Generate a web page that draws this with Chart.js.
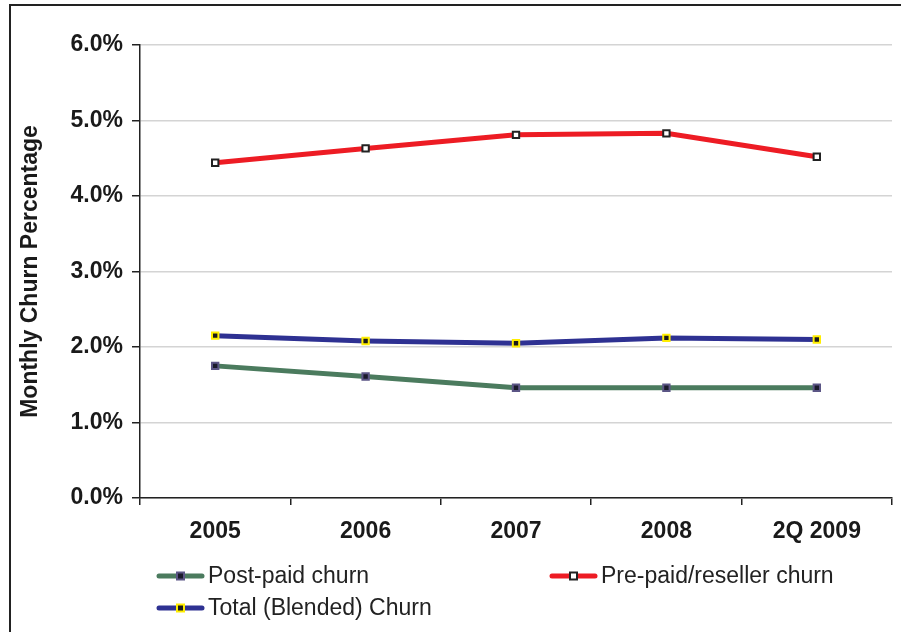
<!DOCTYPE html>
<html>
<head>
<meta charset="utf-8">
<script src="https://cdn.jsdelivr.net/npm/chart.js@4.4.0/dist/chart.umd.min.js"></script>
<style>
    body { margin: 0; background: #fff; overflow: hidden; }
    #wrap { position: relative; width: 901px; height: 632px; }
    #frame { position: absolute; left: 9px; top: 4px; width: 1000px; height: 1000px;
             border-left: 2px solid #222; border-top: 2px solid #222; }
    canvas { position: absolute; left: 0; top: 0; }
</style>
</head>
<body>
<div id="wrap">
    <div id="frame"></div>
    <canvas id="grafico" width="901" height="632"></canvas>
</div>
<script>
const anos = ['2005', '2006', '2007', '2008', '2Q 2009'];
const posPago = [1.75, 1.61, 1.46, 1.46, 1.46];
const prePago = [4.44, 4.63, 4.81, 4.83, 4.52];
const totalBlended = [2.15, 2.08, 2.05, 2.12, 2.10];
const yTicks = [0, 1, 2, 3, 4, 5, 6];

const fonte = "Arial, 'Liberation Sans', sans-serif";

// legenda desenhada à mão, em duas colunas como no original
const legendaPlugin = {
    id: 'legendaColunas',
    afterDraw(chart) {
        const ctx = chart.ctx;
        const slots = [[157, 576], [157, 608], [550, 576]];
        chart.data.datasets.forEach((ds, i) => {
            const [x, y] = slots[i];
            ctx.save();
            ctx.strokeStyle = ds.borderColor;
            ctx.lineWidth = 5;
            ctx.lineCap = 'round';
            ctx.beginPath();
            ctx.moveTo(x + 2, y);
            ctx.lineTo(x + 45, y);
            ctx.stroke();
            const s = 7;
            ctx.fillStyle = ds.pointBackgroundColor;
            ctx.fillRect(x + 23.5 - s / 2, y - s / 2, s, s);
            ctx.strokeStyle = ds.pointBorderColor;
            ctx.lineWidth = 2;
            ctx.strokeRect(x + 23.5 - s / 2, y - s / 2, s, s);
            ctx.fillStyle = '#222';
            ctx.font = '23px ' + fonte;
            ctx.textBaseline = 'middle';
            ctx.textAlign = 'left';
            ctx.fillText(ds.label, x + 51, y + 1);
            ctx.restore();
        });
    }
};

new Chart(document.getElementById('grafico'), {
    type: 'line',
    data: {
        labels: anos,
        datasets: [
            {
                label: 'Post-paid churn',
                data: posPago,
                borderColor: '#4b7b5e',
                borderWidth: 5,
                pointStyle: 'rect',
                pointRadius: 4.5,
                pointBackgroundColor: '#1a1a2a',
                pointBorderColor: '#5b5585',
                pointBorderWidth: 2
            },
            {
                label: 'Total (Blended) Churn',
                data: totalBlended,
                borderColor: '#2e3192',
                borderWidth: 5,
                pointStyle: 'rect',
                pointRadius: 4.5,
                pointBackgroundColor: '#1a1a1a',
                pointBorderColor: '#ffee00',
                pointBorderWidth: 2
            },
            {
                label: 'Pre-paid/reseller churn',
                data: prePago,
                borderColor: '#ed1c24',
                borderWidth: 5,
                pointStyle: 'rect',
                pointRadius: 4.5,
                pointBackgroundColor: '#ffffff',
                pointBorderColor: '#222222',
                pointBorderWidth: 2
            }
        ]
    },
    options: {
        responsive: false,
        animation: false,
        devicePixelRatio: 1,
        layout: { padding: { left: 0, top: 45, right: 9, bottom: 0 } },
        plugins: {
            legend: { display: false },
            tooltip: { enabled: false }
        },
        scales: {
            x: {
                type: 'category',
                offset: true,
                grid: {
                    offset: true,
                    drawOnChartArea: false,
                    drawTicks: true,
                    tickLength: 7,
                    tickColor: '#222',
                    lineWidth: 1.5
                },
                border: { display: true, color: '#222', width: 1.5 },
                ticks: {
                    color: '#1a1a1a',
                    font: { family: fonte, size: 23, weight: 'bold' },
                    padding: 13,
                    maxRotation: 0
                },
                afterFit(scale) { scale.height = 134; }
            },
            y: {
                min: 0,
                max: 6,
                afterBuildTicks(scale) { scale.ticks = yTicks.map(v => ({ value: v })); },
                grid: {
                    color: '#d4d4d4',
                    lineWidth: 1.5,
                    tickLength: 8,
                    tickColor: '#222'
                },
                border: { display: true, color: '#222', width: 1.5 },
                ticks: {
                    color: '#1a1a1a',
                    font: { family: fonte, size: 23, weight: 'bold' },
                    padding: 9,
                    callback: v => v.toFixed(1) + '%'
                },
                title: {
                    display: true,
                    text: 'Monthly Churn Percentage',
                    color: '#1a1a1a',
                    font: { family: fonte, size: 23, weight: 'bold' },
                    padding: { top: 17, bottom: 0 }
                },
                afterFit(scale) { scale.width = 140; }
            }
        }
    },
    plugins: [legendaPlugin]
});
</script>
</body>
</html>
